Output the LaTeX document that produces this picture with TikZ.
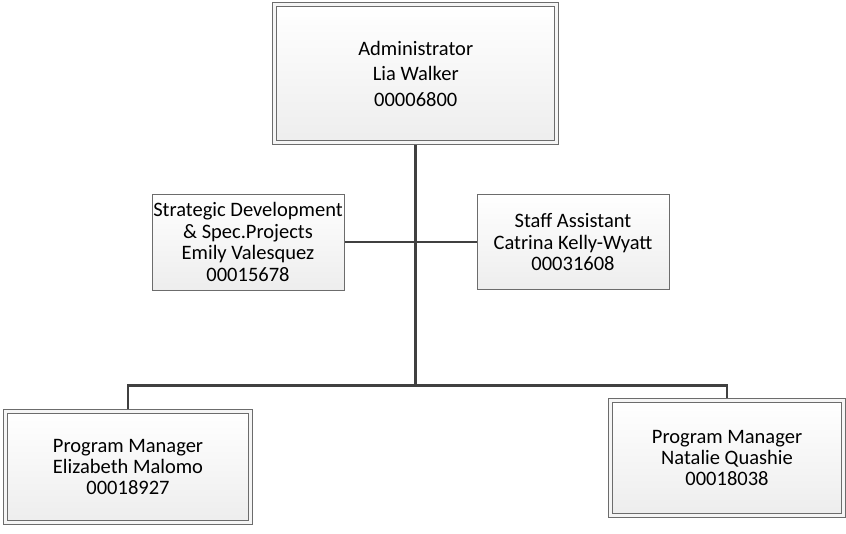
\documentclass[tikz,border=0pt]{standalone}
\usepackage{fontspec}
\setmainfont{Carlito}
\usetikzlibrary{backgrounds}

\begin{document}
\begin{tikzpicture}[x=1pt,y=-1pt,
    box/.style={draw=gray!85!black, line width=0.9pt, top color=white, bottom color=black!7,
        align=center, inner sep=0pt, font=\fontsize{20.5}{21.7}\selectfont},
    dbox/.style={box, double=white!96!black, double distance=3pt, line width=1pt},
    link/.style={draw=black!75, line width=2.6pt}]
\useasboundingbox (0,0) rectangle (846,534);
\node[dbox, minimum width=282pt, minimum height=138pt, font=\fontsize{20.5}{25.5}\selectfont]
    (admin) at (415.75,73.75) {Administrator\\Lia Walker\\00006800};
\node[box, minimum width=192pt, minimum height=96pt] (strat) at (248,242)
    {Strategic Development\\\& Spec.Projects\\Emily Valesquez\\00015678};
\node[box, minimum width=192pt, minimum height=95pt] (staff) at (573,242)
    {Staff Assistant\\Catrina Kelly-Wyatt\\00031608};
\node[dbox, minimum width=245pt, minimum height=111pt, font=\fontsize{20.5}{21}\selectfont]
    (pmleft) at (128,467) {Program Manager\\Elizabeth Malomo\\00018927};
\node[dbox, minimum width=233pt, minimum height=114pt, font=\fontsize{20.5}{21}\selectfont]
    (pmright) at (727,458) {Program Manager\\Natalie Quashie\\00018038};
\coordinate (bar) at (415.75,385.5);
\begin{scope}[on background layer]
\draw[link] (admin.south) -- (bar);
\draw[link] (strat.east) -- (staff.west);
\draw[link] (pmleft.north) |- (bar) -| (pmright.north);
\end{scope}
\end{tikzpicture}
\end{document}
